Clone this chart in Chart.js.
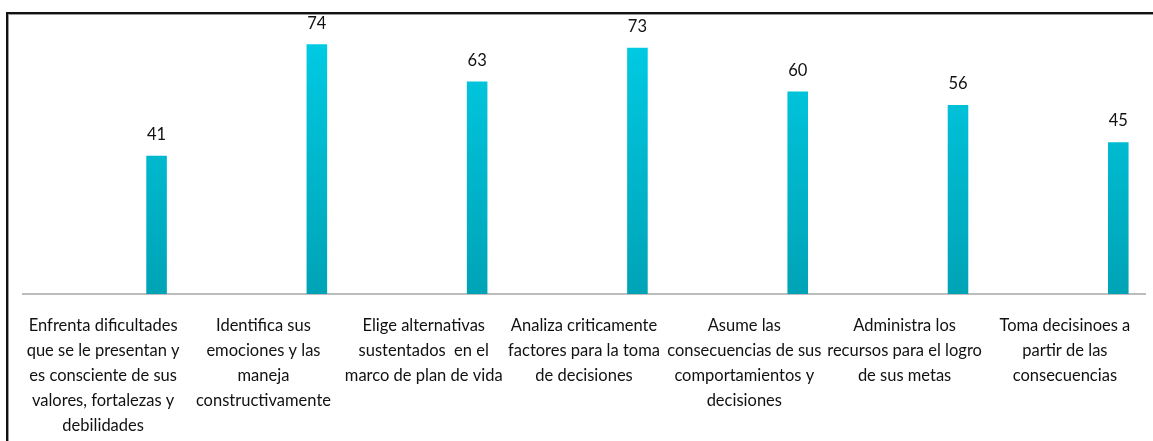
<!DOCTYPE html>
<html>
<head>
<meta charset="utf-8">
<script src="https://cdn.jsdelivr.net/npm/chart.js@4"></script>
<style>
  html, body { margin: 0; padding: 0; background: #fff; overflow: hidden; }
  #marco {
    position: absolute; left: 6px; top: 12px; width: 1300px; height: 600px;
    border-top: 2px solid #111; border-left: 2px solid #111;
    box-shadow: inset 1px 1px 0 #999;
  }
  #caja { position: absolute; left: 0; top: 0; width: 1153px; height: 441px; }
</style>
</head>
<body>
<div id="marco"></div>
<div id="caja"><canvas id="grafico"></canvas></div>
<script>
// Categorías (etiquetas del eje X, ya partidas en líneas)
const categorias = [
  ['Enfrenta dificultades', 'que se le presentan y', 'es consciente de sus', 'valores, fortalezas y', 'debilidades'],
  ['Identifica sus', 'emociones y las', 'maneja', 'constructivamente'],
  ['Elige alternativas', 'sustentados  en el', 'marco de plan de vida'],
  ['Analiza criticamente', 'factores para la toma', 'de decisiones'],
  ['Asume las', 'consecuencias de sus', 'comportamientos y', 'decisiones'],
  ['Administra los', 'recursos para el logro', 'de sus metas'],
  ['Toma decisinoes a', 'partir de las', 'consecuencias']
];

// Valores de cada barra
const valores = [41, 74, 63, 73, 60, 56, 45];

// Series vacías para desplazar la barra a la derecha del grupo
const vacios = [null, null, null, null, null, null, null];

// Gradiente de las barras (claro arriba, oscuro abajo)
function gradienteBarra(context) {
  const chart = context.chart;
  const area = chart.chartArea;
  if (!area) return '#00bcd4';
  const g = chart.ctx.createLinearGradient(0, area.top, 0, area.bottom);
  g.addColorStop(0, '#00cde6');
  g.addColorStop(1, '#00a3b6');
  return g;
}

// Plugin simple para escribir el valor encima de cada barra
const etiquetasValor = {
  id: 'etiquetasValor',
  afterDatasetsDraw(chart) {
    const ctx = chart.ctx;
    const meta = chart.getDatasetMeta(2);
    ctx.save();
    ctx.font = '16.5px Lato';
    ctx.fillStyle = '#111';
    ctx.textAlign = 'center';
    ctx.textBaseline = 'middle';
    meta.data.forEach((barra, i) => {
      ctx.fillText(valores[i], barra.x, barra.y - 21);
    });
    ctx.restore();
  }
};

new Chart(document.getElementById('grafico'), {
  type: 'bar',
  data: {
    labels: categorias,
    datasets: [
      { label: 'a', data: vacios },
      { label: 'b', data: vacios },
      {
        label: 'Valor',
        data: valores,
        backgroundColor: gradienteBarra,
        borderWidth: 0
      }
    ]
  },
  options: {
    responsive: true,
    maintainAspectRatio: false,
    animation: false,
    layout: { padding: { top: 24, left: 23, right: 8, bottom: 0 } },
    datasets: { bar: { categoryPercentage: 1.0, barPercentage: 0.385 } },
    scales: {
      x: {
        grid: { display: false },
        border: { display: true, color: '#bdbdbd', width: 2 },
        ticks: {
          color: '#111',
          font: { family: 'Lato', size: 16.5, lineHeight: 1.515 },
          maxRotation: 0,
          autoSkip: false,
          padding: 11
        },
        afterFit(scale) { scale.height = 147; }
      },
      y: {
        display: false,
        min: 0,
        max: 80
      }
    },
    plugins: {
      legend: { display: false },
      tooltip: { enabled: false }
    }
  },
  plugins: [etiquetasValor]
});
</script>
</body>
</html>
